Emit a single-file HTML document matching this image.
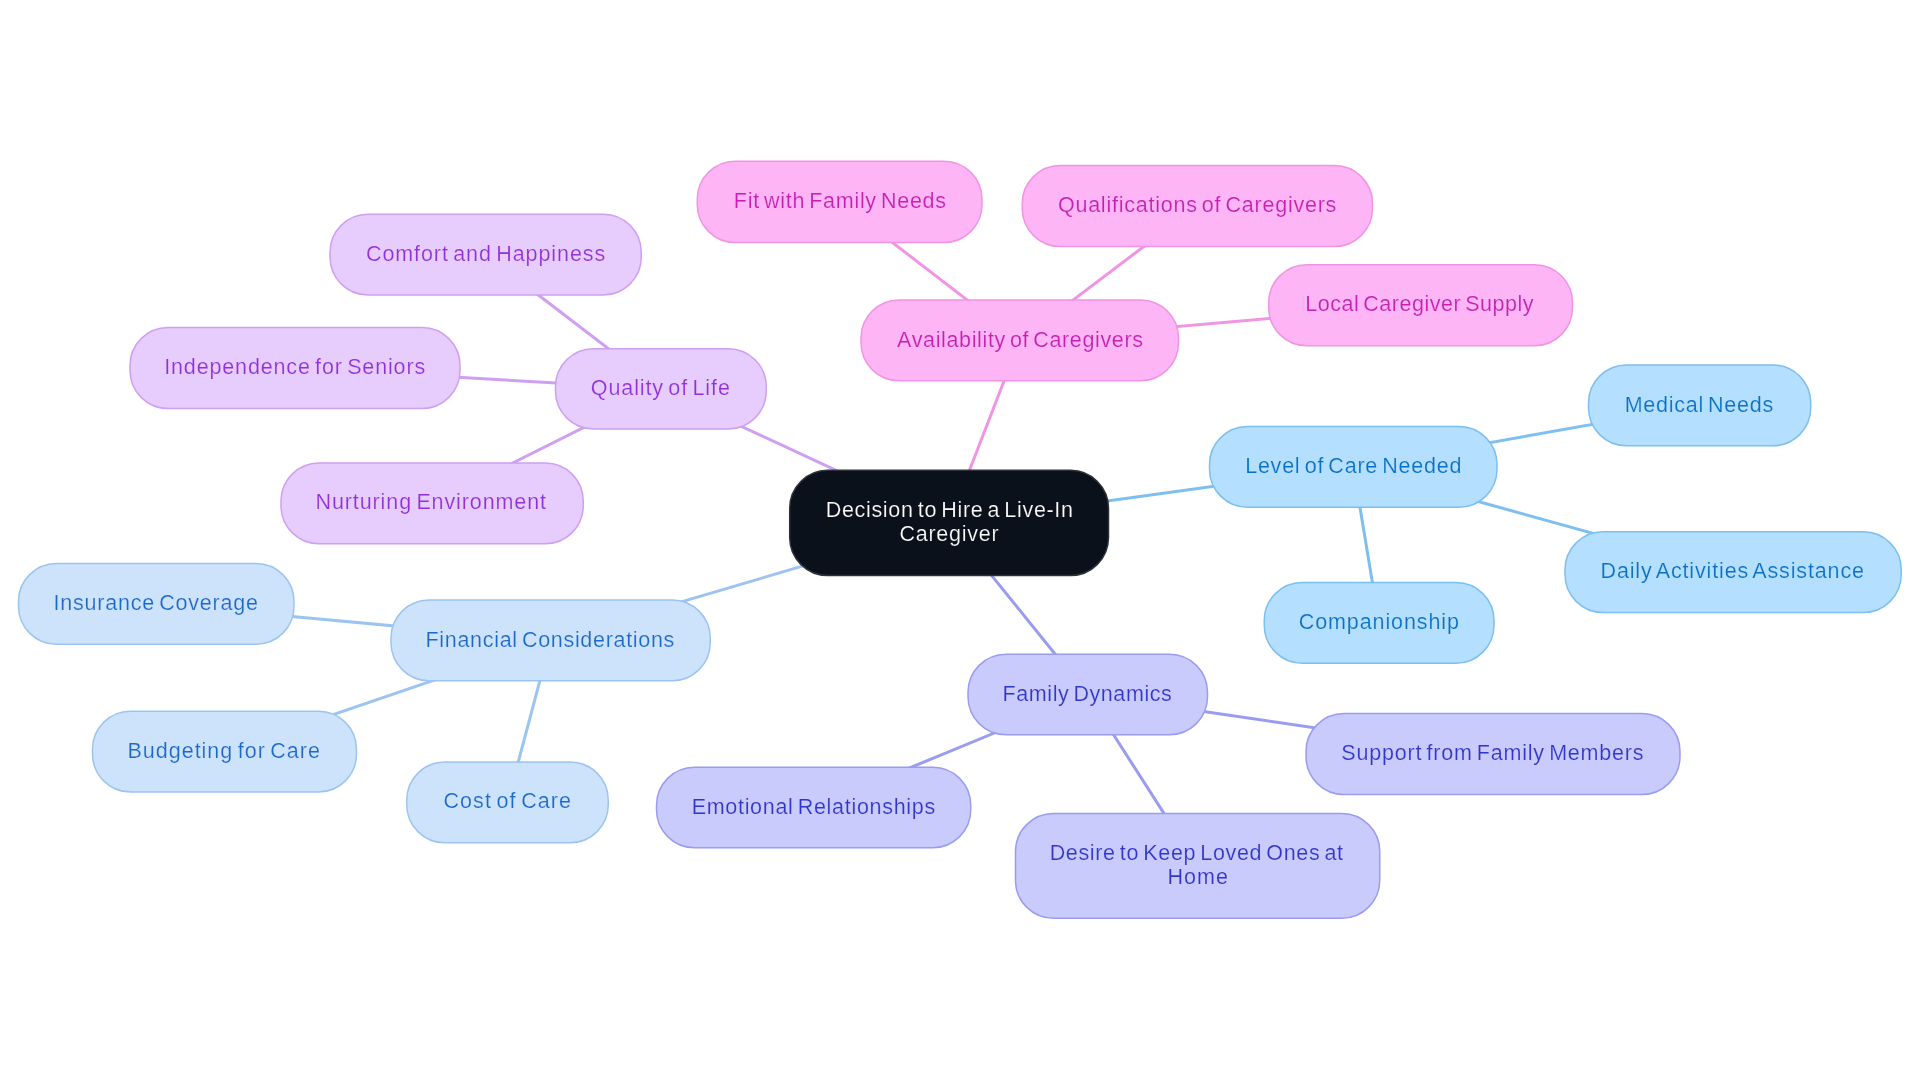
<!DOCTYPE html>
<html lang="en"><head><meta charset="utf-8"><title>Decision to Hire a Live-In Caregiver</title>
<style>html,body{margin:0;padding:0;background:#fff;}body{width:1920px;height:1083px;overflow:hidden;}svg{display:block;will-change:transform;}text{font-family:"Liberation Sans",sans-serif;font-size:21.5px;word-spacing:-2.5px;}</style></head><body>
<svg width="1920" height="1083" viewBox="0 0 1920 1083">
<rect width="1920" height="1083" fill="#ffffff"/>
<g fill="none" stroke-width="3" stroke-linecap="round">
<line x1="949.10" y1="522.90" x2="660.88" y2="388.88" stroke="#cf9ff2"/>
<line x1="949.10" y1="522.90" x2="1019.75" y2="340.38" stroke="#f095e4"/>
<line x1="949.10" y1="522.90" x2="1353.25" y2="466.88" stroke="#7cbff0"/>
<line x1="949.10" y1="522.90" x2="550.62" y2="640.38" stroke="#9cc4f0"/>
<line x1="949.10" y1="522.90" x2="1087.75" y2="694.50" stroke="#9a9cf0"/>
<line x1="660.88" y1="388.88" x2="485.62" y2="254.62" stroke="#cf9ff2"/>
<line x1="660.88" y1="388.88" x2="295.00" y2="368.00" stroke="#cf9ff2"/>
<line x1="660.88" y1="388.88" x2="432.12" y2="503.38" stroke="#cf9ff2"/>
<line x1="1019.75" y1="340.38" x2="839.62" y2="201.88" stroke="#f095e4"/>
<line x1="1019.75" y1="340.38" x2="1197.38" y2="206.00" stroke="#f095e4"/>
<line x1="1019.75" y1="340.38" x2="1420.62" y2="305.25" stroke="#f095e4"/>
<line x1="1353.25" y1="466.88" x2="1699.62" y2="405.38" stroke="#7cbff0"/>
<line x1="1353.25" y1="466.88" x2="1733.12" y2="572.12" stroke="#7cbff0"/>
<line x1="1353.25" y1="466.88" x2="1379.12" y2="622.88" stroke="#7cbff0"/>
<line x1="550.62" y1="640.38" x2="156.25" y2="603.88" stroke="#9cc4f0"/>
<line x1="550.62" y1="640.38" x2="224.50" y2="751.62" stroke="#9cc4f0"/>
<line x1="550.62" y1="640.38" x2="507.50" y2="802.38" stroke="#9cc4f0"/>
<line x1="1087.75" y1="694.50" x2="1493.00" y2="754.00" stroke="#9a9cf0"/>
<line x1="1087.75" y1="694.50" x2="813.62" y2="807.50" stroke="#9a9cf0"/>
<line x1="1087.75" y1="694.50" x2="1197.62" y2="865.88" stroke="#9a9cf0"/>
</g>
<rect x="789.70" y="470.30" width="318.80" height="105.20" rx="38" ry="38" fill="#0b111a" stroke="#2d3238" stroke-width="1.5"/>
<text x="825.68" y="516.80" fill="#ffffff" stroke="#0b111a" stroke-width="0.2" textLength="247.32" lengthAdjust="spacing">Decision to Hire a Live-In</text>
<text x="899.42" y="540.80" fill="#ffffff" stroke="#0b111a" stroke-width="0.2" textLength="99.34" lengthAdjust="spacing">Caregiver</text>
<rect x="697.25" y="161.25" width="284.75" height="81.25" rx="38" ry="38" fill="#fdb5f5" stroke="#f194e3" stroke-width="1.5"/>
<text x="733.80" y="207.88" fill="#c41fb0" stroke="#fdb5f5" stroke-width="0.2" textLength="212.20" lengthAdjust="spacing">Fit with Family Needs</text>
<rect x="1022.25" y="165.50" width="350.25" height="81.00" rx="38" ry="38" fill="#fdb5f5" stroke="#f194e3" stroke-width="1.5"/>
<text x="1057.95" y="211.50" fill="#c41fb0" stroke="#fdb5f5" stroke-width="0.2" textLength="278.40" lengthAdjust="spacing">Qualifications of Caregivers</text>
<rect x="1268.75" y="264.75" width="303.75" height="81.00" rx="38" ry="38" fill="#fdb5f5" stroke="#f194e3" stroke-width="1.5"/>
<text x="1305.15" y="310.75" fill="#c41fb0" stroke="#fdb5f5" stroke-width="0.2" textLength="228.40" lengthAdjust="spacing">Local Caregiver Supply</text>
<rect x="861.00" y="300.00" width="317.50" height="80.75" rx="38" ry="38" fill="#fdb5f5" stroke="#f194e3" stroke-width="1.5"/>
<text x="897.10" y="346.57" fill="#c41fb0" stroke="#fdb5f5" stroke-width="0.2" textLength="245.90" lengthAdjust="spacing">Availability of Caregivers</text>
<rect x="330.00" y="214.25" width="311.25" height="80.75" rx="38" ry="38" fill="#e7cdfd" stroke="#cf9ff2" stroke-width="1.5"/>
<text x="365.95" y="260.62" fill="#9030d8" stroke="#e7cdfd" stroke-width="0.2" textLength="239.25" lengthAdjust="spacing">Comfort and Happiness</text>
<rect x="130.00" y="327.50" width="330.00" height="81.00" rx="38" ry="38" fill="#e7cdfd" stroke="#cf9ff2" stroke-width="1.5"/>
<text x="164.15" y="374.00" fill="#9030d8" stroke="#e7cdfd" stroke-width="0.2" textLength="261.05" lengthAdjust="spacing">Independence for Seniors</text>
<rect x="555.50" y="348.75" width="210.75" height="80.25" rx="38" ry="38" fill="#e7cdfd" stroke="#cf9ff2" stroke-width="1.5"/>
<text x="590.80" y="394.77" fill="#9030d8" stroke="#e7cdfd" stroke-width="0.2" textLength="139.05" lengthAdjust="spacing">Quality of Life</text>
<rect x="281.00" y="463.00" width="302.25" height="80.75" rx="38" ry="38" fill="#e7cdfd" stroke="#cf9ff2" stroke-width="1.5"/>
<text x="315.50" y="509.38" fill="#9030d8" stroke="#e7cdfd" stroke-width="0.2" textLength="230.55" lengthAdjust="spacing">Nurturing Environment</text>
<rect x="1588.50" y="365.00" width="222.25" height="80.75" rx="38" ry="38" fill="#b5dffe" stroke="#7cbff0" stroke-width="1.5"/>
<text x="1624.65" y="411.77" fill="#0a70c6" stroke="#b5dffe" stroke-width="0.2" textLength="148.55" lengthAdjust="spacing">Medical Needs</text>
<rect x="1209.50" y="426.50" width="287.50" height="80.75" rx="38" ry="38" fill="#b5dffe" stroke="#7cbff0" stroke-width="1.5"/>
<text x="1245.15" y="472.88" fill="#0a70c6" stroke="#b5dffe" stroke-width="0.2" textLength="216.35" lengthAdjust="spacing">Level of Care Needed</text>
<rect x="1565.00" y="531.75" width="336.25" height="80.75" rx="38" ry="38" fill="#b5dffe" stroke="#7cbff0" stroke-width="1.5"/>
<text x="1600.50" y="577.88" fill="#0a70c6" stroke="#b5dffe" stroke-width="0.2" textLength="263.50" lengthAdjust="spacing">Daily Activities Assistance</text>
<rect x="1264.25" y="582.50" width="229.75" height="80.75" rx="38" ry="38" fill="#b5dffe" stroke="#7cbff0" stroke-width="1.5"/>
<text x="1298.80" y="628.88" fill="#0a70c6" stroke="#b5dffe" stroke-width="0.2" textLength="160.05" lengthAdjust="spacing">Companionship</text>
<rect x="18.50" y="563.50" width="275.50" height="80.75" rx="38" ry="38" fill="#cde3fc" stroke="#9cc4f0" stroke-width="1.5"/>
<text x="53.50" y="609.88" fill="#1c68ca" stroke="#cde3fc" stroke-width="0.2" textLength="204.50" lengthAdjust="spacing">Insurance Coverage</text>
<rect x="391.00" y="600.00" width="319.25" height="80.75" rx="38" ry="38" fill="#cde3fc" stroke="#9cc4f0" stroke-width="1.5"/>
<text x="425.50" y="646.67" fill="#1c68ca" stroke="#cde3fc" stroke-width="0.2" textLength="248.85" lengthAdjust="spacing">Financial Considerations</text>
<rect x="92.50" y="711.25" width="264.00" height="80.75" rx="38" ry="38" fill="#cde3fc" stroke="#9cc4f0" stroke-width="1.5"/>
<text x="127.50" y="757.62" fill="#1c68ca" stroke="#cde3fc" stroke-width="0.2" textLength="192.35" lengthAdjust="spacing">Budgeting for Care</text>
<rect x="406.75" y="762.00" width="201.50" height="80.75" rx="38" ry="38" fill="#cde3fc" stroke="#9cc4f0" stroke-width="1.5"/>
<text x="443.45" y="808.38" fill="#1c68ca" stroke="#cde3fc" stroke-width="0.2" textLength="127.55" lengthAdjust="spacing">Cost of Care</text>
<rect x="968.00" y="654.25" width="239.50" height="80.50" rx="38" ry="38" fill="#c9cbfd" stroke="#9a9cf0" stroke-width="1.5"/>
<text x="1002.50" y="700.80" fill="#3236c8" stroke="#c9cbfd" stroke-width="0.2" textLength="169.35" lengthAdjust="spacing">Family Dynamics</text>
<rect x="1306.00" y="713.50" width="374.00" height="81.00" rx="38" ry="38" fill="#c9cbfd" stroke="#9a9cf0" stroke-width="1.5"/>
<text x="1341.30" y="760.00" fill="#3236c8" stroke="#c9cbfd" stroke-width="0.2" textLength="302.20" lengthAdjust="spacing">Support from Family Members</text>
<rect x="656.50" y="767.25" width="314.25" height="80.50" rx="38" ry="38" fill="#c9cbfd" stroke="#9a9cf0" stroke-width="1.5"/>
<text x="691.65" y="813.50" fill="#3236c8" stroke="#c9cbfd" stroke-width="0.2" textLength="243.55" lengthAdjust="spacing">Emotional Relationships</text>
<rect x="1015.50" y="813.50" width="364.25" height="104.75" rx="38" ry="38" fill="#c9cbfd" stroke="#9a9cf0" stroke-width="1.5"/>
<text x="1049.65" y="859.83" fill="#3236c8" stroke="#c9cbfd" stroke-width="0.2" textLength="293.40" lengthAdjust="spacing">Desire to Keep Loved Ones at</text>
<text x="1167.40" y="883.83" fill="#3236c8" stroke="#c9cbfd" stroke-width="0.2" textLength="60.60" lengthAdjust="spacing">Home</text>
</svg></body></html>
